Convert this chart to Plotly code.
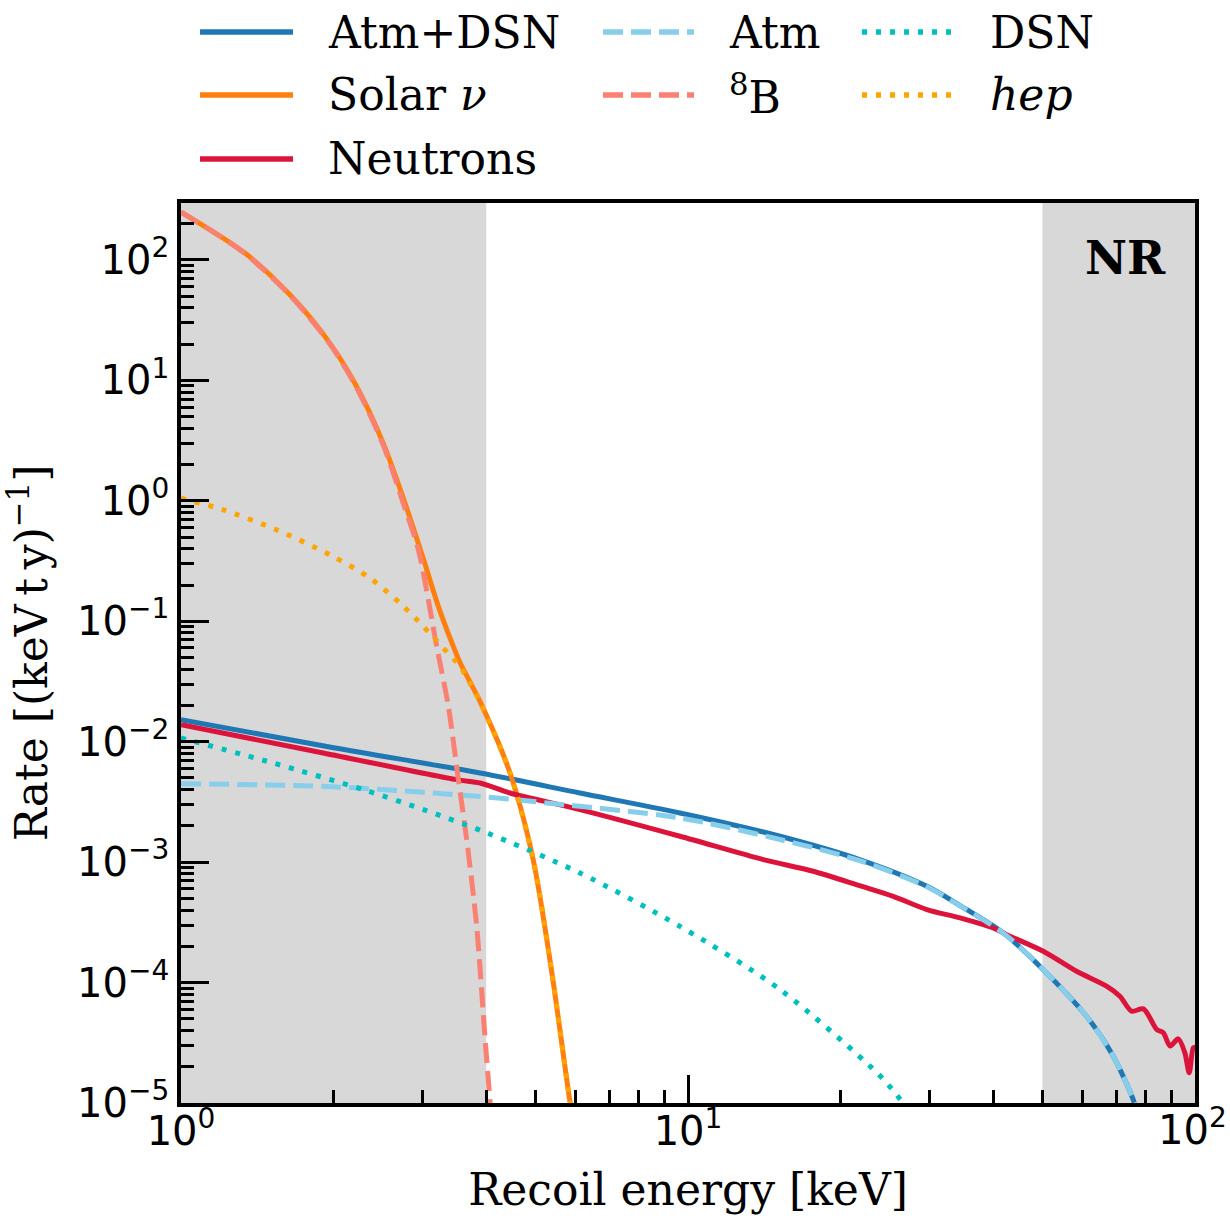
import plotly.graph_objects as go

# ---------------- data ----------------
energy_solar = [1.0, 1.337, 1.665, 1.967, 2.22, 2.506, 2.745, 3.006, 3.218, 3.444, 3.55, 3.72, 3.89, 4.456, 4.95, 5.39, 5.85, 5.95]
rate_solar = [250, 114, 48, 20.3, 8.9, 3.0, 1.05, 0.33, 0.133, 0.0618, 0.0455, 0.031, 0.0215, 0.0055, 0.00105, 1.2e-4, 1.03e-5, 7e-6]

energy_8b = [1.0, 1.337, 1.665, 1.967, 2.22, 2.506, 2.745, 2.94, 3.194, 3.368, 3.524, 3.66, 3.83, 3.98, 4.07, 4.1]
rate_8b = [250, 113, 47.5, 20.0, 8.7, 2.9, 0.95, 0.39, 0.0618, 0.0196, 0.00484, 0.00154, 2.93e-4, 3.37e-5, 1.03e-5, 7e-6]

energy_hep = [1.0, 1.212, 1.544, 1.967, 2.36, 2.745, 3.006, 3.29, 3.55, 3.72, 3.89, 4.456, 4.95, 5.39, 5.85, 5.95]
rate_hep = [1.05, 0.842, 0.574, 0.356, 0.228, 0.133, 0.0906, 0.06, 0.0422, 0.0303, 0.0214, 0.0055, 0.00105, 1.2e-4, 1.03e-5, 7e-6]

energy_total = [1.0, 2.0, 3.89, 6.12, 9.64, 15.19, 21.8, 29.6, 34.4, 41.9, 50.2, 61.1, 69.0, 75.5, 77.0]
rate_total = [0.01525, 0.0089, 0.0055, 0.00375, 0.00256, 0.00164, 1.05e-3, 6.3e-4, 4.36e-4, 2.58e-4, 1.28e-4, 5.25e-5, 2.44e-5, 1.07e-5, 8e-6]

energy_atm = [1.0, 1.908, 3.006, 4.456, 5.26, 9.64, 15.19, 21.8, 29.6, 34.4, 41.9, 50.2, 61.1, 69.0, 75.5, 77.0]
rate_atm = [0.00448, 0.00426, 0.0038, 0.00334, 0.0031, 0.00233, 0.00154, 1.03e-3, 6.25e-4, 4.33e-4, 2.57e-4, 1.28e-4, 5.25e-5, 2.44e-5, 1.07e-5, 8e-6]

energy_dsn = [1.0, 1.52, 2.29, 3.006, 4.01, 6.12, 9.64, 15.19, 23.6, 25.8, 27.0]
rate_dsn = [0.01074, 0.00665, 0.004, 0.00273, 0.00175, 8.13e-4, 2.93e-4, 8.75e-5, 1.78e-5, 1.17e-5, 9e-6]

energy_neutrons = [1.0, 1.908, 3.5, 3.89, 4.456, 6.12, 9.64, 14.08, 17.66, 21.8, 25.4, 29.6, 34.4, 40.0, 42.5,
                   50.2, 58.4, 66.9, 71.1, 75.0, 79.1, 84.1, 86.6, 89.3, 92.7, 95.5, 97.4, 99.2, 100.0]
rate_neutrons = [0.01384, 0.00806, 0.00484, 0.00454, 0.00375, 0.00273, 0.00164, 1.05e-3, 8.4e-4, 6.38e-4, 5.2e-4, 4.04e-4, 3.44e-4, 2.84e-4, 2.5e-4,
                 1.82e-4, 1.24e-4, 9.33e-5, 7.7e-5, 5.78e-5, 6.05e-5, 4.07e-5, 3.83e-5, 2.97e-5, 3.41e-5, 2.61e-5, 1.78e-5, 2.87e-5, 2.9e-5]

shaded_ranges = [(1.0, 4.0), (50.0, 100.0)]

x_tick_vals = [1, 10, 100]
# the last label is drawn as an annotation so that it stays inside the page edge
x_tick_text = ["10<sup>0</sup>", "10<sup>1</sup>", ""]
x_last_label = "10<sup>2</sup>"
y_tick_vals = [1e-5, 1e-4, 1e-3, 1e-2, 1e-1, 1, 10, 100]
y_tick_text = ["10<sup>\u22125</sup>", "10<sup>\u22124</sup>", "10<sup>\u22123</sup>", "10<sup>\u22122</sup>",
               "10<sup>\u22121</sup>", "10<sup>0</sup>", "10<sup>1</sup>", "10<sup>2</sup>"]
x_minor_vals = [m * d for d in (1, 10) for m in range(2, 10)]
y_minor_vals = [m * 10.0 ** e for e in range(-5, 3) for m in range(2, 10) if m * 10.0 ** e < 297]

series = [
    # name, x, y, color, dash
    ("Atm+DSN", energy_total, rate_total, "#1f77b4", "solid"),
    ("Solar <i>\u03bd</i>", energy_solar, rate_solar, "#ff7f0e", "solid"),
    ("Neutrons", energy_neutrons, rate_neutrons, "#dc143c", "solid"),
    ("Atm", energy_atm, rate_atm, "#87ceeb", "20px,8px"),
    ("<sup>8</sup>B", energy_8b, rate_8b, "#fa8072", "20px,8px"),
    ("DSN", energy_dsn, rate_dsn, "#00bfbf", "5px,9px"),
    ("<i>hep</i>", energy_hep, rate_hep, "#ffa500", "5px,9px"),
]
# legend slot (column, row) for each series, column-major like the reference
legend_slots = [(0, 0), (0, 1), (0, 2), (1, 0), (1, 1), (2, 0), (2, 1)]

# ---------------- figure ----------------
W, H = 1230, 1225
L, R, T, B = 181, 35, 203, 122
PW, PH = W - L - R, H - T - B

SERIF = "DejaVu Serif"
SANS = "DejaVu Sans"

fig = go.Figure()
for name, xs, ys, color, dash in series:
    fig.add_trace(go.Scatter(
        x=xs, y=ys, mode="lines", name=name, showlegend=False,
        line=dict(color=color, width=5, dash=dash, shape="spline", smoothing=0.8),
        hoverinfo="x+y+name",
    ))

shapes = []
for x0, x1 in shaded_ranges:
    shapes.append(dict(type="rect", xref="x", yref="paper", x0=x0, x1=x1, y0=0, y1=1,
                       fillcolor="#d8d8d8", line=dict(width=0), layer="below"))


def px_to_paper_x(px):
    return (px - L) / PW


def px_to_paper_y(py):
    return (H - B - py) / PH


legend_rows = [32, 95, 159]
legend_cols = [(200, 293, 326), (603, 694, 727), (862, 955, 988)]
annotations = []
for (name, xs, ys, color, dash), (col, row) in zip(series, legend_slots):
    lx0, lx1, tx = legend_cols[col]
    yy = px_to_paper_y(legend_rows[row])
    shapes.append(dict(type="line", xref="paper", yref="paper",
                       x0=px_to_paper_x(lx0), x1=px_to_paper_x(lx1), y0=yy, y1=yy,
                       line=dict(color=color, width=5.5, dash=dash)))
    annotations.append(dict(text=name, xref="paper", yref="paper", x=px_to_paper_x(tx), y=yy,
                            xanchor="left", yanchor="middle", showarrow=False,
                            font=dict(family=SERIF, size=44, color="black")))

annotations.append(dict(text="<b>NR</b>", xref="paper", yref="paper",
                        x=px_to_paper_x(1168), y=px_to_paper_y(258),
                        xanchor="right", yanchor="middle", showarrow=False,
                        font=dict(family=SERIF, size=46, color="black")))

# last x tick label, kept inside the page
annotations.append(dict(text=x_last_label, xref="paper", yref="paper",
                        x=px_to_paper_x(1228), y=px_to_paper_y(1127),
                        xanchor="right", yanchor="middle", showarrow=False, borderpad=0,
                        font=dict(family=SANS, size=40, color="black")))

axis_common = dict(
    type="log", showline=True, linewidth=3.5, linecolor="black", mirror=True,
    ticks="inside", ticklen=28, tickwidth=3, tickcolor="black",
    showgrid=False, zeroline=False,
    tickfont=dict(family=SANS, size=40, color="black"),
)

fig.update_layout(
    width=W, height=H, autosize=False,
    margin=dict(l=L, r=R, t=T, b=B),
    paper_bgcolor="white", plot_bgcolor="white",
    shapes=shapes, annotations=annotations, showlegend=False,
    xaxis=dict(
        **axis_common, range=[0, 2],
        tickvals=x_tick_vals, ticktext=x_tick_text, ticklabelstandoff=-10,
        minor=dict(tickvals=x_minor_vals, ticks="inside", ticklen=13, tickwidth=2.5, tickcolor="black", showgrid=False),
        title=dict(text="Recoil energy [keV]", font=dict(family=SERIF, size=44, color="black"), standoff=22),
    ),
    yaxis=dict(
        **axis_common, range=[-5, 2.4728],
        tickvals=y_tick_vals, ticktext=y_tick_text,
        minor=dict(tickvals=y_minor_vals, ticks="inside", ticklen=13, tickwidth=2.5, tickcolor="black", showgrid=False),
        title=dict(text="Rate [(keV\u2009t\u2009y)<sup>\u22121</sup>]", font=dict(family=SERIF, size=44, color="black"), standoff=20),
    ),
)

fig.write_html("out.html")
